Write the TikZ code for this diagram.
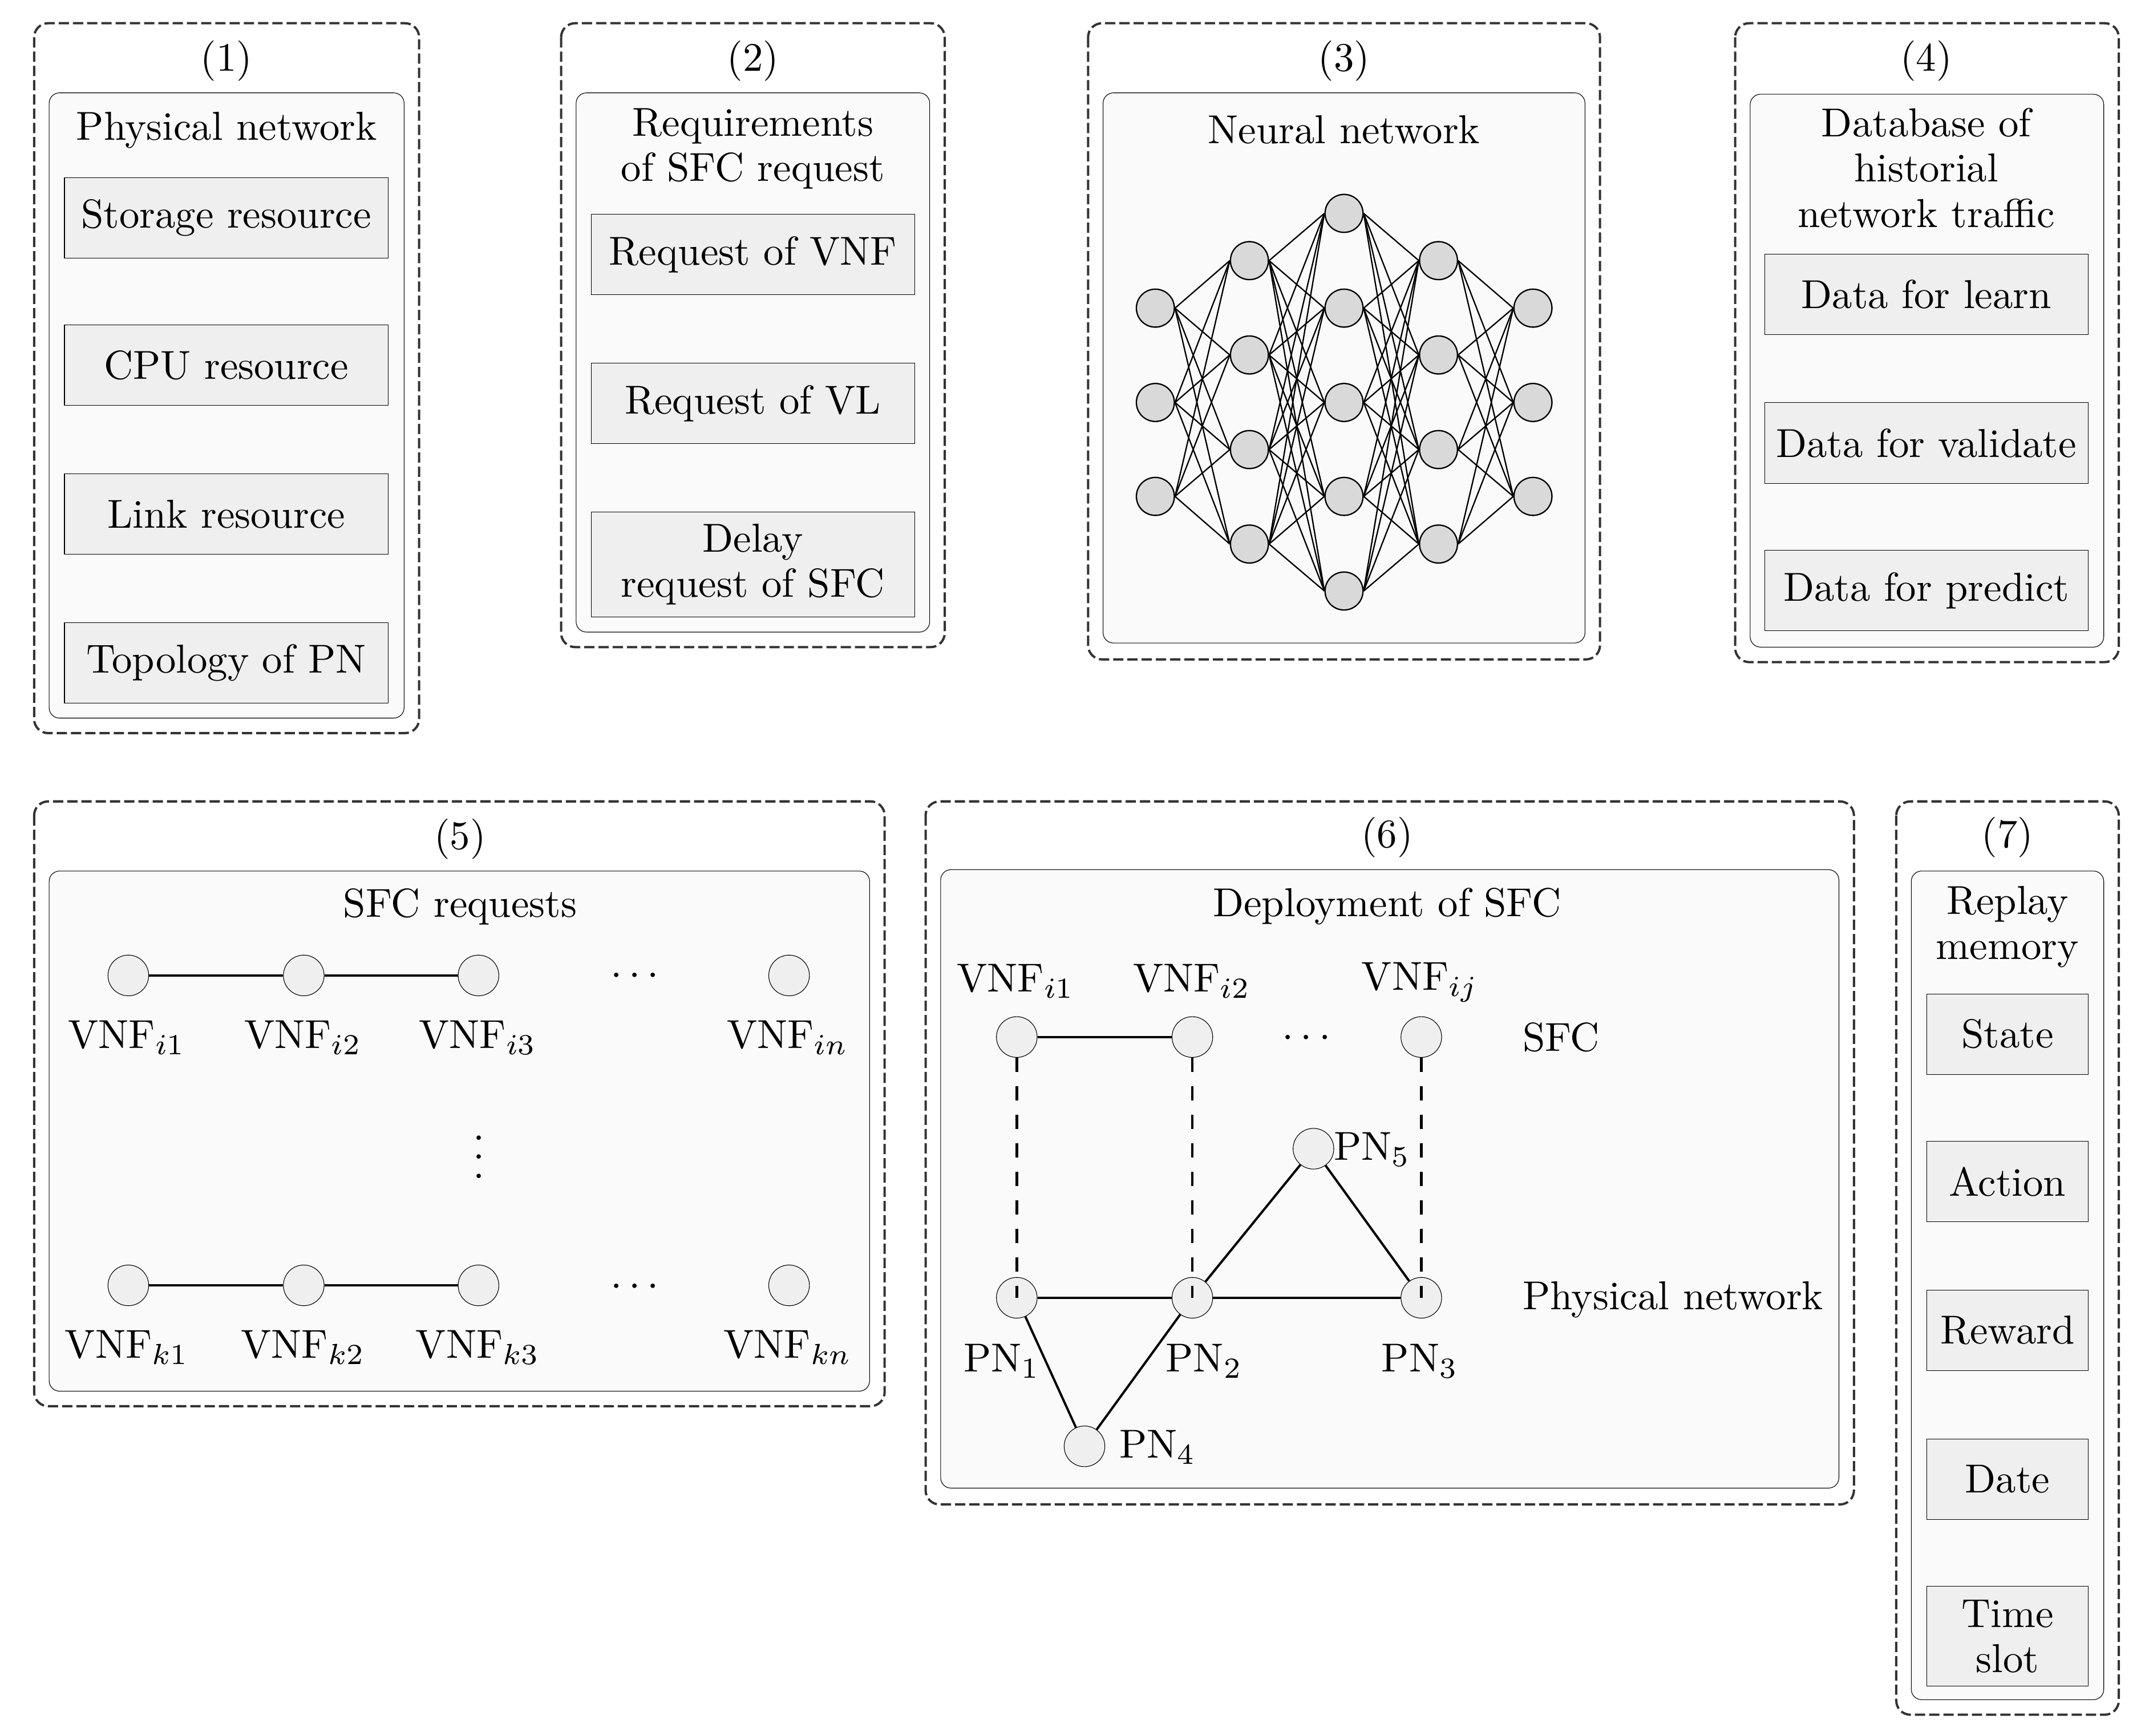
\documentclass[tikz,border=0pt]{standalone}
\usepackage{tikz}

\definecolor{outerline}{HTML}{333333}
\definecolor{innerfill}{HTML}{FAFAFA}
\definecolor{itemfill}{HTML}{EFEFEF}
\definecolor{neuronfill}{HTML}{D9D9D9}

\tikzset{
    outerbox/.style={draw=outerline, line width=0.55pt, dash pattern=on 2.47pt off 0.96pt, rounded corners=3.4pt},
    innerbox/.style={draw=black, line width=0.15pt, fill=innerfill, rounded corners=2.5pt},
    itembox/.style={draw=black, line width=0.15pt, fill=itemfill, align=center, inner sep=0pt,
        minimum width=77.9pt, minimum height=19.4pt, font=\fontsize{9.73}{10.9}\selectfont},
    smallitem/.style={itembox, minimum width=38.8pt},
    titletext/.style={align=center, inner sep=0pt, font=\fontsize{9.73}{10.9}\selectfont},
    neuron/.style={circle, draw=black, line width=0.32pt, fill=neuronfill, minimum size=9.14pt, inner sep=0pt},
    netnode/.style={circle, draw=black, line width=0.15pt, fill=itemfill, minimum size=9.8pt, inner sep=0pt},
    netlink/.style={line width=0.55pt},
    maplink/.style={line width=0.62pt, dash pattern=on 3.43pt off 3.43pt},
    nnlink/.style={line width=0.32pt}
}

\begin{document}
\begin{tikzpicture}[x=0.3287pt, y=-0.3287pt]
    \useasboundingbox (0,0) rectangle (1568.3,1271.2);

    % Draw the seven dashed frames
    \draw[outerbox] (25,17) rectangle (307,537);
    \draw[outerbox] (411,17) rectangle (692,474);
    \draw[outerbox] (797,17) rectangle (1172,483);
    \draw[outerbox] (1271,17) rectangle (1552,485);
    \draw[outerbox] (25,587) rectangle (648,1030);
    \draw[outerbox] (678,587) rectangle (1358,1102);
    \draw[outerbox] (1389,587) rectangle (1552,1256);

    % Draw the panels inside the frames
    \draw[innerbox] (36,68) rectangle (296,526);
    \draw[innerbox] (422,68) rectangle (681,463);
    \draw[innerbox] (808,68) rectangle (1161,471);
    \draw[innerbox] (1282,69) rectangle (1541,474);
    \draw[innerbox] (36,638) rectangle (637,1019);
    \draw[innerbox] (689,637) rectangle (1347,1090);
    \draw[innerbox] (1400,638) rectangle (1541,1245);

    % Frame (1)
    \node[titletext] (numone) at (166,44.5) {(1)};
    \node[titletext] (titlephysical) at (166,95.5) {Physical network};
    \node[itembox] (storage) at (165.7,159.5) {Storage resource};
    \node[itembox] (cpu) at (165.7,267.5) {CPU resource};
    \node[itembox] (link) at (165.7,376.5) {Link resource};
    \node[itembox] (topology) at (165.7,485.5) {Topology of PN};

    % Frame (2)
    \node[titletext] (numtwo) at (551.5,44.5) {(2)};
    \node[titletext] (titlerequire) at (551.5,109) {Requirements\\of SFC request};
    \node[itembox] (reqvnf) at (551.5,186.5) {Request of VNF};
    \node[itembox] (reqvl) at (551.5,295.5) {Request of VL};
    \node[itembox, minimum height=25.3pt] (reqdelay) at (551.5,413.5) {Delay\\request of SFC};

    % Frame (3)
    \node[titletext] (numthree) at (984.5,44.5) {(3)};
    \node[titletext] (titleneural) at (984.5,95) {Neural network};

    \foreach \i/\y in {1/225.7, 2/294.8, 3/363.6}
        \node[neuron] (a\i) at (846.3,\y) {};
    \foreach \i/\y in {1/190.9, 2/260, 3/329.3, 4/398.5}
        \node[neuron] (b\i) at (915.2,\y) {};
    \foreach \i/\y in {1/156.3, 2/225.7, 3/294.8, 4/363.6, 5/432.9}
        \node[neuron] (c\i) at (984.5,\y) {};
    \foreach \i/\y in {1/190.9, 2/260, 3/329.3, 4/398.5}
        \node[neuron] (d\i) at (1053.7,\y) {};
    \foreach \i/\y in {1/225.7, 2/294.8, 3/363.6}
        \node[neuron] (e\i) at (1122.9,\y) {};

    \foreach \i in {1,2,3} \foreach \j in {1,2,3,4} {
        \draw[nnlink] (a\i.east) -- (b\j.west);
        \draw[nnlink] (d\j.east) -- (e\i.west);
    }
    \foreach \i in {1,2,3,4} \foreach \j in {1,2,3,4,5} {
        \draw[nnlink] (b\i.east) -- (c\j.west);
        \draw[nnlink] (c\j.east) -- (d\i.west);
    }

    % Frame (4)
    \node[titletext] (numfour) at (1411,44.5) {(4)};
    \node[titletext] (titledata) at (1411,123) {Database of\\historial\\network traffic};
    \node[itembox] (learn) at (1411,215.5) {Data for learn};
    \node[itembox] (validate) at (1411,324.5) {Data for validate};
    \node[itembox] (predict) at (1411,432.5) {Data for predict};

    % Frame (5)
    \node[titletext] (numfive) at (337,614.5) {(5)};
    \node[titletext] (titlesfc) at (337,664) {SFC requests};

    \node[netnode] (i1) at (94,714.5) {};
    \node[netnode] (i2) at (222.5,714.5) {};
    \node[netnode] (i3) at (350.5,714.5) {};
    \node[netnode] (in) at (578,714.5) {};
    \draw[netlink] (i1) -- (i2);
    \draw[netlink] (i2) -- (i3);
    \node[titletext] (labeli1) at (93,760) {VNF$_{i1}$};
    \node[titletext] (labeli2) at (222,760) {VNF$_{i2}$};
    \node[titletext] (labeli3) at (350,760) {VNF$_{i3}$};
    \node[titletext] (labelin) at (577,760) {VNF$_{in}$};
    \node[titletext] (dotsi) at (465,715) {$\cdots$};

    \node[titletext, font=\fontsize{8.5}{10}\selectfont, scale=1.145, transform shape] (dotsv) at (350.7,837) {$\vdots$};

    \node[netnode] (k1) at (94,941.5) {};
    \node[netnode] (k2) at (222.5,941.5) {};
    \node[netnode] (k3) at (350.5,941.5) {};
    \node[netnode] (kn) at (578,941.5) {};
    \draw[netlink] (k1) -- (k2);
    \draw[netlink] (k2) -- (k3);
    \node[titletext] (labelk1) at (93,987) {VNF$_{k1}$};
    \node[titletext] (labelk2) at (222,987) {VNF$_{k2}$};
    \node[titletext] (labelk3) at (350,987) {VNF$_{k3}$};
    \node[titletext] (labelkn) at (577,987) {VNF$_{kn}$};
    \node[titletext] (dotsk) at (465,943) {$\cdots$};

    % Frame (6)
    \node[titletext] (numsix) at (1016,613.5) {(6)};
    \node[titletext] (titledeploy) at (1016,664) {Deployment of SFC};
    \node[titletext] (labelsfc) at (1143.5,760) {SFC};
    \node[titletext] (labelnet) at (1225.5,952) {Physical network};

    \node[netnode] (v1) at (744.8,759.6) {};
    \node[netnode] (v2) at (873.4,759.6) {};
    \node[netnode] (vj) at (1041.1,759.6) {};
    \node[titletext] (labelv1) at (744,718.5) {VNF$_{i1}$};
    \node[titletext] (labelv2) at (873,718.5) {VNF$_{i2}$};
    \node[titletext] (labelvj) at (1040,719.5) {VNF$_{ij}$};
    \node[titletext] (dotsv2) at (957,760.5) {$\cdots$};

    \node[netnode] (pn1) at (744.8,950.6) {};
    \node[netnode] (pn2) at (873.4,950.6) {};
    \node[netnode] (pn3) at (1041.1,950.6) {};
    \node[netnode] (pn4) at (794.4,1059.4) {};
    \node[netnode] (pn5) at (962.1,841.4) {};
    \node[titletext] (labelpn1) at (734,997) {PN$_1$};
    \node[titletext] (labelpn2) at (882,997) {PN$_2$};
    \node[titletext] (labelpn3) at (1040,997) {PN$_3$};
    \node[titletext] (labelpn4) at (848,1060) {PN$_4$};
    \node[titletext] (labelpn5) at (1005,842) {PN$_5$};

    \draw[netlink] (v1) -- (v2);
    \draw[netlink] (pn1) -- (pn2);
    \draw[netlink] (pn2) -- (pn3);
    \draw[netlink] (pn1) -- (pn4);
    \draw[netlink] (pn2) -- (pn4);
    \draw[netlink] (pn2) -- (pn5);
    \draw[netlink] (pn3) -- (pn5);

    % Draw the mapping from the SFC down to the physical network
    \draw[maplink] (v1) -- (pn1.center);
    \draw[maplink] (v2) -- (pn2.center);
    \draw[maplink] (vj) -- (pn3.center);

    % Frame (7)
    \node[titletext] (numseven) at (1470.5,613.5) {(7)};
    \node[titletext] (titlereplay) at (1470.5,679) {Replay\\memory};
    \node[smallitem] (state) at (1470.5,757.5) {State};
    \node[smallitem] (action) at (1470.5,865.5) {Action};
    \node[smallitem] (reward) at (1470.5,974.5) {Reward};
    \node[smallitem] (date) at (1470.5,1083.5) {Date};
    \node[smallitem, minimum height=24pt] (timeslot) at (1470.5,1198.5) {Time\\slot};
\end{tikzpicture}
\end{document}
